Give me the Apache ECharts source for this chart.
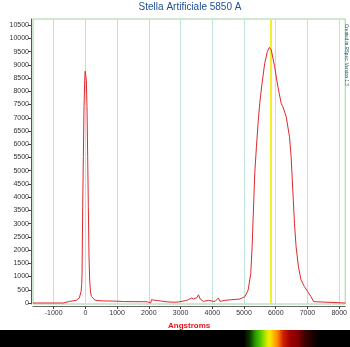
<!DOCTYPE html>
<html>
<head>
<meta charset="utf-8">
<script src="https://cdn.jsdelivr.net/npm/echarts@6/dist/echarts.min.js"></script>
<style>
  html, body { margin: 0; padding: 0; background: #fff; }
  #chart { width: 350px; height: 347px; }
</style>
</head>
<body>
<div id="chart"></div>
<script>
// Spectrum of an artificial star (wavelength in Angstroms, relative flux)
const wavelengths = [
  -1650, -700, -660, -500, -290, -190, -134, -115, -104, -94, -84, -63, -42, -21, -5, 10,
  31, 52, 73, 94, 115, 136, 160, 190, 230, 300, 400, 550, 700, 970, 1200, 1500,
  1800, 1950, 1990, 2060, 2085, 2150, 2300, 2400, 2600, 2800, 2950, 3150, 3250, 3337,
  3410, 3514, 3566, 3618, 3722, 3879, 3983, 4087, 4191, 4243, 4400, 4608, 4870, 5026,
  5130, 5213, 5255, 5286, 5338, 5391, 5443, 5495, 5568, 5652, 5735, 5797, 5820, 5860,
  5965, 6068, 6172, 6225, 6329, 6433, 6485, 6537, 6590, 6641, 6715, 6797, 6903, 7006,
  7110, 7194, 7216, 8190
];
const flux = [
  0, 0, 40, 60, 100, 190, 440, 700, 1120, 2380, 3640, 5530, 7420, 8420, 8760, 8700,
  8420, 7420, 5530, 3640, 1750, 870, 450, 250, 180, 110, 90, 80, 75, 70, 55, 50,
  50, 45, 0, 0, 125, 110, 90, 70, 40, 30, 40, 90, 125, 190,
  150, 200, 310, 150, 60, 100, 75, 60, 190, 60, 100, 125, 150, 240,
  490, 1120, 2130, 3140, 4900, 5900, 6790, 7540, 8300, 9060, 9500, 9660, 9680, 9560,
  8930, 8170, 7540, 7420, 7040, 6280, 5530, 4270, 3010, 2130, 1370, 870, 620, 430,
  240, 50, 0, 0
];

// Axis tick positions
const xTicks = [-1000, 0, 1000, 2000, 3000, 4000, 5000, 6000, 7000, 8000];
const yTicks = [0, 500, 1000, 1500, 2000, 2500, 3000, 3500, 4000, 4500, 5000,
  5500, 6000, 6500, 7000, 7500, 8000, 8500, 9000, 9500, 10000, 10500];

// Reference wavelength marked in yellow
const markedWavelength = 5850;

const chart = echarts.init(document.getElementById('chart'), null, { renderer: 'canvas' });

const seriesData = wavelengths.map((w, i) => [w, flux[i]]);
const plain = v => String(v);

chart.setOption({
  animation: false,
  backgroundColor: '#ffffff',
  grid: {
    left: 33, right: 2, top: 19, bottom: 43,
    show: true, borderColor: '#9fd49f', borderWidth: 1, backgroundColor: 'transparent'
  },
  xAxis: {
    type: 'value',
    min: -1650, max: 8190,
    offset: 2,
    name: 'Angstroms',
    nameLocation: 'middle',
    nameGap: 15,
    nameTextStyle: { color: '#e8101a', fontWeight: 'bold', fontSize: 8, fontFamily: 'Liberation Sans' },
    axisLine: { show: true, onZero: false, lineStyle: { color: '#666', width: 1 } },
    axisTick: { show: true, length: 3, lineStyle: { color: '#444' }, customValues: xTicks },
    axisLabel: { fontSize: 7, color: '#333', margin: 4, fontFamily: 'Liberation Sans', customValues: xTicks, formatter: plain },
    splitLine: { show: false }
  },
  yAxis: {
    type: 'value',
    min: -38, max: 10733,
    offset: 2,
    axisLine: { show: true, onZero: false, lineStyle: { color: '#555', width: 1 } },
    axisTick: { show: true, length: 3, lineStyle: { color: '#444' }, customValues: yTicks },
    axisLabel: { fontSize: 7, color: '#333', margin: 2, fontFamily: 'Liberation Sans', customValues: yTicks, formatter: plain },
    splitLine: { show: false }
  },
  series: [
    {
      // vertical reference lines at each 1000 Angstroms
      type: 'line',
      data: [],
      silent: true,
      markLine: {
        silent: true,
        symbol: 'none',
        label: { show: false },
        lineStyle: { color: '#bfe2da', width: 1, type: 'solid' },
        data: xTicks.map(v => ({ xAxis: v }))
      }
    },
    {
      type: 'line',
      data: [],
      silent: true,
      markLine: {
        silent: true,
        symbol: 'none',
        label: { show: false },
        lineStyle: { color: '#f4ee2a', width: 2, type: 'solid' },
        data: [{ xAxis: markedWavelength }]
      }
    },
    {
      name: 'spectrum',
      type: 'line',
      data: seriesData,
      showSymbol: false,
      smooth: false,
      lineStyle: { color: '#e0282c', width: 1 },
      z: 5
    }
  ],
  graphic: [
    {
      type: 'text',
      x: 190, y: 7,
      style: {
        text: 'Stella Artificiale 5850 A',
        fill: '#1c4f94',
        font: '10px "Liberation Sans", Arial, sans-serif',
        textAlign: 'center',
        textVerticalAlign: 'middle'
      }
    },
    {
      type: 'text',
      x: 346, y: 24,
      rotation: -Math.PI / 2,
      style: {
        text: 'Created in RSpec: Version 1.3',
        fill: '#2d4e6e',
        font: '4.6px "Liberation Sans", Arial, sans-serif',
        textAlign: 'left',
        textVerticalAlign: 'middle'
      }
    },
    {
      // rendered colour strip of the spectrum
      type: 'rect',
      shape: { x: 0, y: 330, width: 350, height: 17 },
      style: {
        fill: new echarts.graphic.LinearGradient(0, 0, 1, 0, [
          { offset: 0, color: '#000000' },
          { offset: 0.697, color: '#000000' },
          { offset: 0.714, color: '#0a3a00' },
          { offset: 0.731, color: '#2fa000' },
          { offset: 0.743, color: '#4cc800' },
          { offset: 0.757, color: '#b4e000' },
          { offset: 0.769, color: '#f4f000' },
          { offset: 0.780, color: '#ffc000' },
          { offset: 0.794, color: '#ff8000' },
          { offset: 0.809, color: '#d02000' },
          { offset: 0.829, color: '#a00000' },
          { offset: 0.851, color: '#800000' },
          { offset: 0.871, color: '#400000' },
          { offset: 0.900, color: '#100000' },
          { offset: 0.914, color: '#000000' },
          { offset: 1, color: '#000000' }
        ])
      }
    }
  ]
});
</script>
</body>
</html>
